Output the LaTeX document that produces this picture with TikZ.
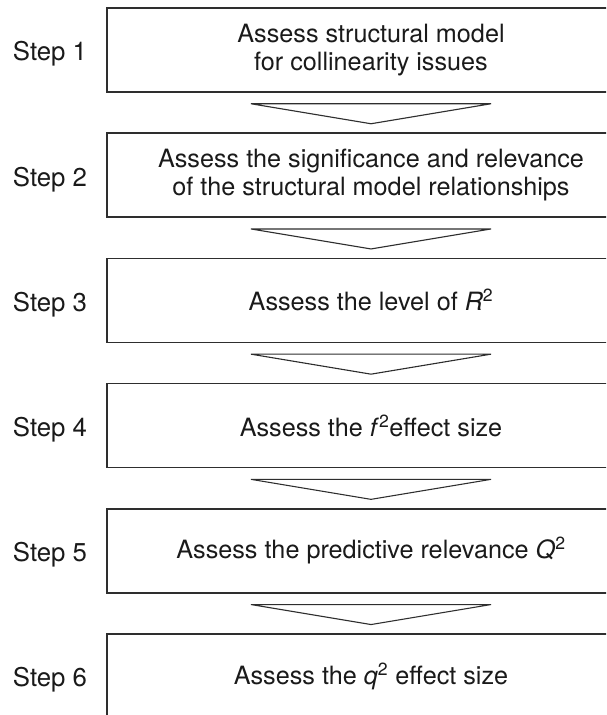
\documentclass[tikz,border=0pt]{standalone}
\usepackage{fontspec}
\setmainfont{TeX Gyre Heros}
\usetikzlibrary{calc}
\definecolor{linec}{HTML}{2E2E2E}
\definecolor{textc}{HTML}{1A1A1A}
\begin{document}
\begin{tikzpicture}[x=1pt,y=-1pt,
  stepbox/.style={draw=linec, line width=1.5pt, fill=white, minimum width=528pt, minimum height=84pt,
     inner sep=0pt, align=center, text=textc, font=\fontsize{25.2}{28.5}\selectfont},
  steplabel/.style={text=textc, font=\fontsize{25.8}{28}\selectfont, inner sep=0pt},
  flowarrow/.style={draw=linec, line width=1.1pt, line join=miter}]
\useasboundingbox (0,0) rectangle (606,715);
\clip (0,0) rectangle (606,715);
\fill[white] (0,0) rectangle (606,715);
\node[stepbox] (b1) at (371,50) {Assess structural model\\for collinearity issues};
\node[stepbox] (b2) at (371,175.2) {Assess the significance and relevance\\of the structural model relationships};
\node[stepbox] (b3) at (371,300.4) {Assess the level of \textit{R}\textsuperscript{2}};
\node[stepbox] (b4) at (371,425.6) {Assess the \textit{f}\textsuperscript{2}effect size};
\node[stepbox] (b5) at (371,550.8) {Assess the predictive relevance \textit{Q}\textsuperscript{2}};
\node[stepbox] (b6) at (371,676) {Assess the \textit{q}\textsuperscript{2} effect size};
\node[steplabel] (s1) at (50,54) {Step 1};
\node[steplabel] (s2) at (50,179.2) {Step 2};
\node[steplabel] (s3) at (50,304.4) {Step 3};
\node[steplabel] (s4) at (50,429.6) {Step 4};
\node[steplabel] (s5) at (50,554.8) {Step 5};
\node[steplabel] (s6) at (50,680) {Step 6};
\foreach \b in {b1,b2,b3,b4,b5}{
  \draw[flowarrow] ($(\b.south)+(-120,11)$) -- ($(\b.south)+(120,11)$) -- ($(\b.south)+(0,31)$) -- cycle;
}
\end{tikzpicture}
\end{document}
